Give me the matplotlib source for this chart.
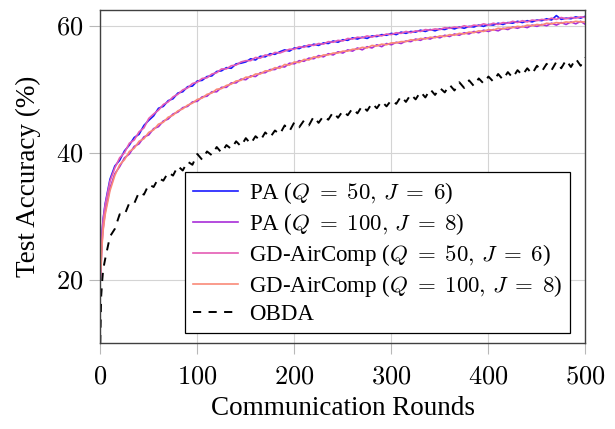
import numpy as np
import matplotlib
matplotlib.use("Agg")
from matplotlib import pyplot as plt

plt.rcParams['font.family'] = ['Liberation Serif', 'DejaVu Serif']
plt.rcParams['mathtext.fontset'] = 'cm'

# communication rounds where the curves are sampled
rounds = np.concatenate([[0, 1, 2, 3], np.arange(5, 501, 5)])

pa_q50 = [20.0, 24.5, 27.8, 29.6, 31.9,
          35.8, 37.9, 38.8, 40.3, 41.2, 42.4, 42.9, 44.3, 45.1, 45.8, 47.0, 47.3, 48.2, 48.5, 49.4, 49.6, 50.4, 50.5, 51.3,
          51.4, 52.0, 52.1, 52.8, 52.9, 53.4, 53.3, 54.0, 54.1, 54.3, 54.8, 54.6, 55.2, 55.1, 55.6, 55.5, 55.9, 56.2, 56.0, 56.5,
          56.4, 56.8, 56.7, 57.1, 56.9, 57.3, 57.2, 57.6, 57.4, 57.8, 57.7, 58.1, 57.9, 58.2, 58.0, 58.4, 58.3, 58.6, 58.5, 58.8,
          58.6, 59.0, 58.8, 59.1, 59.0, 59.3, 59.1, 59.4, 59.2, 59.5, 59.4, 59.7, 59.5, 59.8, 59.6, 59.9, 59.8, 60.1, 59.9, 60.2,
          60.1, 60.4, 60.2, 60.5, 60.4, 60.7, 60.5, 60.8, 60.6, 60.9, 60.8, 61.1, 60.9, 61.6, 61.0, 61.2, 61.1, 61.4, 61.2, 61.5]

pa_q100 = [20.0, 23.0, 26.2, 28.1, 30.6,
           34.4, 36.7, 37.8, 39.2, 39.8, 41.0, 41.4, 42.5, 42.8, 43.8, 44.1, 45.0, 45.3, 46.1, 46.4, 47.1, 47.3, 48.0, 48.1,
           48.8, 48.9, 49.6, 49.6, 50.3, 50.3, 51.0, 51.0, 51.6, 51.5, 52.1, 52.0, 52.6, 52.6, 53.1, 53.1, 53.6, 53.5, 54.1, 54.0,
           54.5, 54.4, 54.9, 54.8, 55.3, 55.1, 55.6, 55.4, 55.9, 55.7, 56.2, 56.0, 56.5, 56.2, 56.7, 56.5, 57.0, 56.7, 57.2, 57.0,
           57.4, 57.2, 57.6, 57.5, 57.9, 57.7, 58.1, 57.9, 58.3, 58.1, 58.5, 58.3, 58.7, 58.5, 58.9, 58.7, 59.1, 58.9, 59.3, 59.1,
           59.4, 59.2, 59.6, 59.4, 59.8, 59.6, 59.9, 59.7, 60.1, 59.9, 60.2, 60.0, 60.4, 60.1, 60.5, 60.2, 60.6, 60.3, 60.7, 60.2]

gd_q50 = [20.0, 24.0, 27.5, 29.4, 31.7,
          35.5, 37.6, 39.2, 40.0, 41.5, 42.0, 43.3, 43.9, 45.4, 46.1, 46.7, 47.6, 48.0, 48.8, 49.2, 49.9, 50.2, 50.9, 51.1,
          51.7, 51.8, 52.4, 52.6, 53.2, 53.2, 53.7, 53.8, 54.3, 54.5, 54.5, 55.0, 54.9, 55.4, 55.3, 55.8, 55.7, 56.0, 56.3, 56.3,
          56.7, 56.6, 57.0, 56.9, 57.2, 57.1, 57.5, 57.4, 57.7, 57.6, 58.0, 57.9, 58.2, 58.1, 58.4, 58.2, 58.5, 58.4, 58.7, 58.6,
          58.9, 58.8, 59.1, 58.9, 59.2, 59.1, 59.4, 59.3, 59.5, 59.4, 59.7, 59.6, 59.8, 59.7, 60.0, 59.8, 60.1, 60.0, 60.3, 60.1,
          60.4, 60.2, 60.5, 60.4, 60.7, 60.5, 60.8, 60.6, 60.9, 60.8, 61.0, 60.9, 61.2, 61.0, 61.3, 61.1, 61.3, 61.2, 61.4, 61.3]

gd_q100 = [20.0, 22.5, 25.8, 27.8, 30.2,
           34.0, 36.4, 38.1, 38.9, 40.2, 40.7, 41.8, 42.2, 43.2, 43.6, 44.5, 44.8, 45.6, 45.9, 46.6, 46.9, 47.5, 47.8, 48.4,
           48.6, 49.2, 49.4, 50.0, 50.1, 50.6, 50.8, 51.3, 51.4, 51.9, 51.9, 52.4, 52.4, 52.9, 52.9, 53.4, 53.3, 53.9, 53.8, 54.3,
           54.2, 54.7, 54.6, 55.1, 55.0, 55.4, 55.4, 55.7, 55.7, 56.0, 56.0, 56.3, 56.3, 56.6, 56.5, 56.9, 56.8, 57.1, 57.0, 57.3,
           57.3, 57.5, 57.5, 57.8, 57.7, 58.0, 57.9, 58.2, 58.1, 58.4, 58.3, 58.6, 58.5, 58.8, 58.7, 59.0, 58.9, 59.2, 59.1, 59.4,
           59.3, 59.6, 59.5, 59.7, 59.7, 59.9, 59.8, 60.1, 60.0, 60.2, 60.1, 60.4, 60.3, 60.5, 60.4, 60.6, 60.5, 60.7, 60.6, 60.6]

obda = [10.0, 17.5, 19.8, 21.6, 23.2,
        26.8, 28.0, 30.3, 30.2, 32.1, 32.0, 33.8, 33.4, 35.0, 34.6, 36.0, 35.6, 36.9, 36.4, 37.9, 37.2, 38.6, 38.1, 39.8,
        38.9, 40.2, 39.6, 40.9, 40.0, 41.2, 40.6, 41.8, 41.0, 42.3, 41.4, 42.6, 41.9, 43.2, 42.4, 43.5, 42.9, 44.3, 43.4, 44.8,
        44.0, 45.1, 44.3, 45.7, 44.7, 45.8, 45.2, 46.4, 45.5, 46.6, 45.9, 47.0, 46.2, 47.4, 46.6, 47.8, 47.0, 48.1, 47.3, 48.3,
        47.7, 48.9, 48.0, 49.2, 48.4, 49.6, 48.7, 50.0, 49.1, 50.2, 49.5, 50.7, 49.8, 51.1, 50.2, 51.4, 50.5, 51.7, 50.9, 52.0,
        51.2, 52.4, 51.5, 52.7, 51.8, 53.0, 52.2, 53.3, 52.4, 53.7, 52.8, 54.0, 53.0, 54.3, 53.3, 54.6, 53.5, 54.8, 53.7, 55.0]

labels = [r'PA ($Q\;=\;50,\, J\;=\;6$)', r'PA ($Q\;=\;100,\, J\;=\;8$)',
          r'GD-AirComp ($Q\;=\;50,\, J\;=\;6$)', r'GD-AirComp ($Q\;=\;100,\, J\;=\;8$)', 'OBDA']
xticks = [0, 100, 200, 300, 400, 500]
yticks = [20, 40, 60]

fig = plt.figure(figsize=(6.15, 4.29), dpi=100)
ax = fig.add_axes([0.163, 0.2, 0.789, 0.777])

ax.plot(rounds, pa_q50, color='#1a1aff', lw=1.2, label=labels[0])
ax.plot(rounds, pa_q100, color='#a82ed8', lw=1.2, label=labels[1])
ax.plot(rounds, gd_q50, color='#e45cb4', lw=1.2, label=labels[2])
ax.plot(rounds, gd_q100, color='#fa8a78', lw=1.2, label=labels[3])
ax.plot(rounds, obda, color='black', lw=1.4, ls=(0, (4.2, 3.8)), label=labels[4])

ax.set_xlim(0, 500)
ax.set_ylim(10, 62.5)
ax.set_xticks(xticks, ['$%d$' % t for t in xticks])
ax.set_yticks(yticks, ['$%d$' % t for t in yticks])
ax.tick_params(direction='out', length=8, width=0.8, color='#b8b8b8', labelsize=19)
ax.tick_params(axis='x', pad=9)
ax.tick_params(axis='y', pad=4)
ax.grid(color='#d4d4d4', linewidth=0.8)
for s in ax.spines.values():
    s.set_color('#404040')
    s.set_linewidth(1.0)

ax.set_xlabel('Communication Rounds', fontsize=19.5, labelpad=5)
ax.set_ylabel('Test Accuracy (%)', fontsize=19.5, labelpad=11)

leg = ax.legend(loc='lower right', bbox_to_anchor=(0.969, 0.03), borderaxespad=0,
                fontsize=16.5, fancybox=False, edgecolor='black', framealpha=1,
                handlelength=1.95, handletextpad=0.5, labelspacing=0.22, borderpad=0.35)
leg.get_frame().set_linewidth(0.9)

fig.savefig('out.png', dpi=100)
